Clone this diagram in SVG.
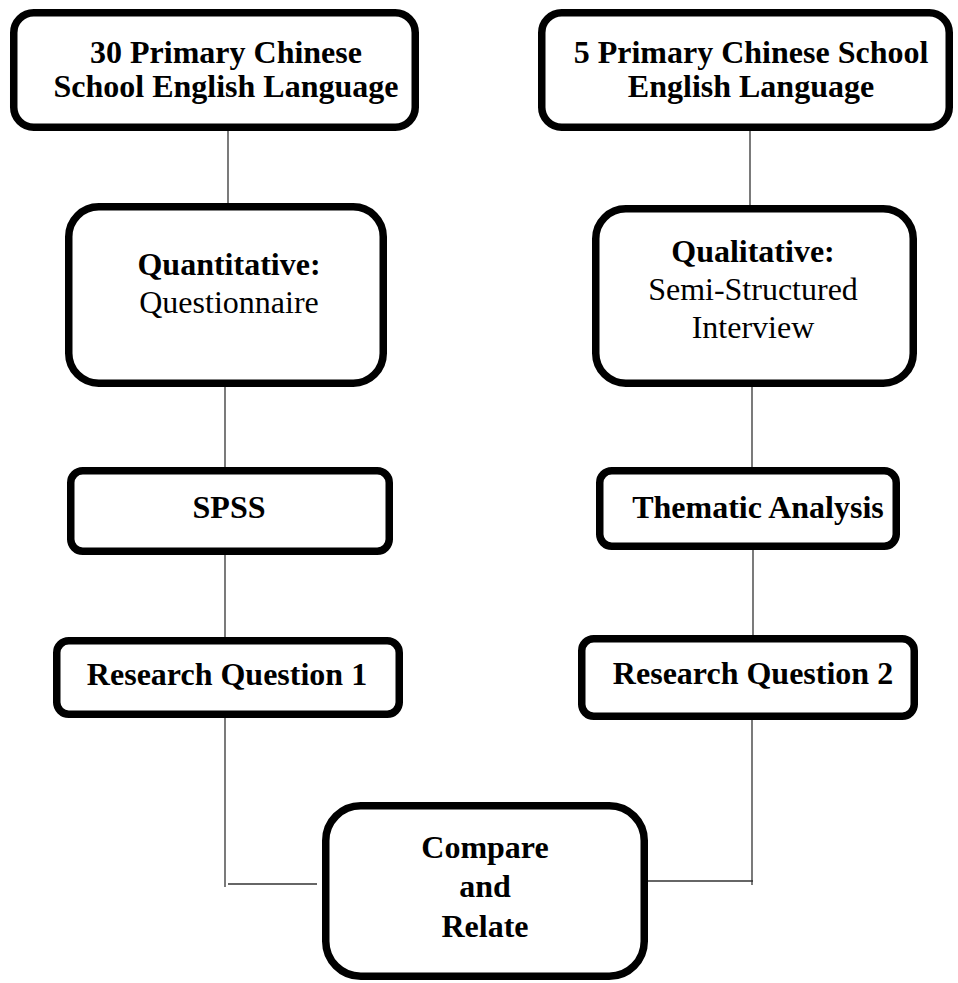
<svg xmlns="http://www.w3.org/2000/svg" width="958" height="983" viewBox="0 0 958 983">
<style>
.box{fill:#fff;stroke:#000;stroke-width:7.5}
.t{font-family:"Liberation Serif","Times New Roman",serif;font-size:32px;fill:#000;text-anchor:middle}
.b{font-weight:bold}
.c{fill:none;stroke:#333;stroke-width:1.3}
</style>
<rect width="958" height="983" fill="#fff"/>
<g id="connectors">
<line class="c" x1="228" y1="131" x2="228" y2="203"/>
<line class="c" x1="225" y1="387" x2="225" y2="467"/>
<line class="c" x1="225" y1="555" x2="225" y2="637"/>
<line class="c" x1="225" y1="718" x2="225" y2="887"/>
<line class="c" x1="228" y1="884" x2="317" y2="884"/>
<line class="c" x1="750" y1="131" x2="750" y2="205"/>
<line class="c" x1="752" y1="387" x2="752" y2="467"/>
<line class="c" x1="753" y1="550" x2="753" y2="635"/>
<line class="c" x1="752" y1="720" x2="752" y2="885"/>
<line class="c" x1="648" y1="881" x2="753" y2="881"/>
</g>
<g id="n1">
<rect class="box" x="13.75" y="12.75" width="401.5" height="114.5" rx="20"/>
<text class="t b" x="226" y="63">30 Primary Chinese</text>
<text class="t b" x="226" y="97">School English Language</text>
</g>
<g id="n2">
<rect class="box" x="541.75" y="12.75" width="407.5" height="114.5" rx="20"/>
<text class="t b" x="751" y="63">5 Primary Chinese School</text>
<text class="t b" x="751" y="97">English Language</text>
</g>
<g id="n3">
<rect class="box" x="68.75" y="206.75" width="314.5" height="176.5" rx="30"/>
<text class="t b" x="229" y="275">Quantitative:</text>
<text class="t" x="229" y="313">Questionnaire</text>
</g>
<g id="n4">
<rect class="box" x="595.75" y="208.75" width="317.5" height="174.5" rx="30"/>
<text class="t b" x="753" y="262">Qualitative:</text>
<text class="t" x="753" y="300">Semi-Structured</text>
<text class="t" x="753" y="338">Interview</text>
</g>
<g id="n5">
<rect class="box" x="70.75" y="470.75" width="318.5" height="80.5" rx="12"/>
<text class="t b" x="229" y="518">SPSS</text>
</g>
<g id="n6">
<rect class="box" x="599.75" y="470.75" width="296.5" height="75.5" rx="12"/>
<text class="t b" x="758" y="518">Thematic Analysis</text>
</g>
<g id="n7">
<rect class="box" x="56.75" y="640.75" width="342.5" height="73.5" rx="12"/>
<text class="t b" x="227" y="685">Research Question 1</text>
</g>
<g id="n8">
<rect class="box" x="581.75" y="638.75" width="332.5" height="77.5" rx="12"/>
<text class="t b" x="753" y="684">Research Question 2</text>
</g>
<g id="n9">
<rect class="box" x="325.75" y="805.75" width="318.5" height="170.5" rx="35"/>
<text class="t b" x="485" y="858">Compare</text>
<text class="t b" x="485" y="897">and</text>
<text class="t b" x="485" y="937">Relate</text>
</g>
</svg>
